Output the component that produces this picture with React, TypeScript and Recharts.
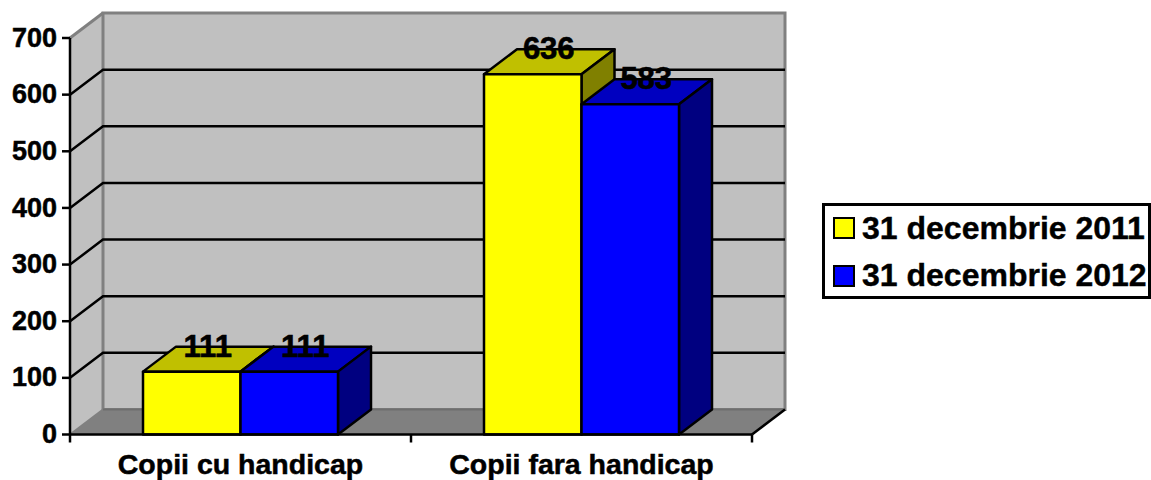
import { Bar, BarChart, CartesianGrid, LabelList, Legend, ReferenceArea, XAxis, YAxis } from 'recharts'

const categories = ['Copii cu handicap', 'Copii fara handicap']
const values2011 = [111, 636]
const values2012 = [111, 583]
const yTicks = [0, 100, 200, 300, 400, 500, 600, 700]
const seriesNames = ['31 decembrie 2011', '31 decembrie 2012']

const rows = categories.map((name, i) => ({ name, a: values2011[i], b: values2012[i] }))

const FONT = '"Liberation Sans", Arial, sans-serif'
// 3D look: depth of the fake extrusion, like the old Excel charts
const DX = 33
const DY = 25
const LINE = 2.5

function Walls({ x, y, width, height }: any) {
  const left = x
  const right = x + width
  const top = y
  const bottom = y + height
  return (
    <g>
      <polygon
        points={`${left},${bottom} ${left},${top} ${left + DX},${top - DY} ${left + DX},${bottom - DY}`}
        fill="#C0C0C0"
      />
      <rect x={left + DX} y={top - DY} width={width} height={height} fill="#C0C0C0" stroke="#808080" strokeWidth={3} />
      <polygon
        points={`${left},${bottom} ${left + DX},${bottom - DY} ${right + DX},${bottom - DY} ${right},${bottom}`}
        fill="#808080"
      />
      <line x1={left} y1={top} x2={left + DX} y2={top - DY} stroke="#808080" strokeWidth={3} />
      <line x1={left} y1={bottom} x2={left + DX} y2={bottom - DY} stroke="#808080" strokeWidth={2} />
      <line x1={left + DX} y1={bottom - DY} x2={right + DX} y2={bottom - DY} stroke="#6e6e6e" strokeWidth={2} />
      <line x1={right} y1={bottom} x2={right + DX} y2={bottom - DY} stroke="#000" strokeWidth={LINE} />
      {/* x axis ticks sit between the categories */}
      {[0, 0.5, 1].map((f) => (
        <line key={f} x1={left + width * f} y1={bottom} x2={left + width * f} y2={bottom + 8} stroke="#000" strokeWidth={LINE} />
      ))}
    </g>
  )
}

function GridLine({ x1, x2, y1, index }: any) {
  if (index === 0 || index === yTicks.length - 1) return <g />
  return (
    <polyline
      points={`${x1},${y1} ${x1 + DX},${y1 - DY} ${x2 + DX},${y1 - DY}`}
      fill="none"
      stroke="#000"
      strokeWidth={LINE}
    />
  )
}

const makeBox = (front: string, topFace: string, side: string) => (props: any) => {
  const { x, y, width, height } = props
  return (
    <g stroke="#000" strokeWidth={LINE} strokeLinejoin="round">
      <polygon
        points={`${x},${y} ${x + DX},${y - DY} ${x + width + DX},${y - DY} ${x + width},${y}`}
        fill={topFace}
      />
      <polygon
        points={`${x + width},${y} ${x + width + DX},${y - DY} ${x + width + DX},${y + height - DY} ${x + width},${y + height}`}
        fill={side}
      />
      <rect x={x} y={y} width={width} height={height} fill={front} />
    </g>
  )
}

function ValueLabel({ x, y, width, value }: any) {
  return (
    <text x={x + width / 2 + 16} y={y - 15} textAnchor="middle" fontFamily={FONT} fontWeight="bold" fontSize={31} fill="#000" stroke="#000" strokeWidth={0.6}>
      {value}
    </text>
  )
}

function LegendBox({ payload }: any) {
  return (
    <div
      style={{
        position: 'absolute',
        left: 822,
        top: 203,
        width: 329,
        height: 96,
        boxSizing: 'border-box',
        border: '3px solid #000',
        fontFamily: FONT,
        fontWeight: 'bold',
        fontSize: 32,
        color: '#000',
        WebkitTextStroke: '0.4px #000',
      }}
    >
      {(payload ?? []).map((p: any, i: number) => (
        <div key={p.value} style={{ position: 'absolute', left: 8, top: 9 + i * 47.5, height: 26, display: 'flex', alignItems: 'center', whiteSpace: 'nowrap' }}>
          <span style={{ width: 22, height: 22, boxSizing: 'border-box', border: '2px solid #000', background: p.color, marginRight: 7 }} />
          <span>{p.value}</span>
        </div>
      ))}
    </div>
  )
}

const axisText = { fontFamily: FONT, fontWeight: 'bold', fill: '#000', stroke: '#000', strokeWidth: 0.5 }

export default function App() {
  return (
    <div style={{ position: 'absolute', left: 0, top: 0, width: 1151, height: 480, background: '#fff' }}>
      <BarChart
        width={1151}
        height={480}
        data={rows}
        barSize={97.5}
        barGap={0}
        margin={{ top: 38, right: 399, bottom: 0, left: 0 }}
      >
        <ReferenceArea y1={0} y2={700} shape={<Walls />} ifOverflow="visible" zIndex={-200} />
        <CartesianGrid vertical={false} horizontal={(p: any) => <GridLine key={p.index} {...p} />} />
        <XAxis
          dataKey="name"
          height={45.5}
          tickLine={false}
          axisLine={{ stroke: '#000', strokeWidth: LINE }}
          interval={0}
          tickMargin={13}
          tick={{ ...axisText, fontSize: 28.5 }}
        />
        <YAxis
          domain={[0, 700]}
          ticks={yTicks}
          width={70}
          interval={0}
          tickSize={8}
          tickMargin={5}
          tickLine={{ stroke: '#000', strokeWidth: LINE }}
          axisLine={{ stroke: '#000', strokeWidth: LINE }}
          tick={{ ...axisText, fontSize: 27, dy: -1 }}
        />
        <Bar dataKey="a" name={seriesNames[0]} fill="#FFFF00" shape={makeBox('#FFFF00', '#C0C000', '#808000')} isAnimationActive={false}>
          <LabelList dataKey="a" content={<ValueLabel />} />
        </Bar>
        <Bar dataKey="b" name={seriesNames[1]} fill="#0000FF" shape={makeBox('#0000FF', '#0000C0', '#000080')} isAnimationActive={false}>
          <LabelList dataKey="b" content={<ValueLabel />} />
        </Bar>
        <Legend content={<LegendBox />} wrapperStyle={{ position: 'absolute', left: 0, top: 0, width: 0, height: 0 }} />
      </BarChart>
    </div>
  )
}
